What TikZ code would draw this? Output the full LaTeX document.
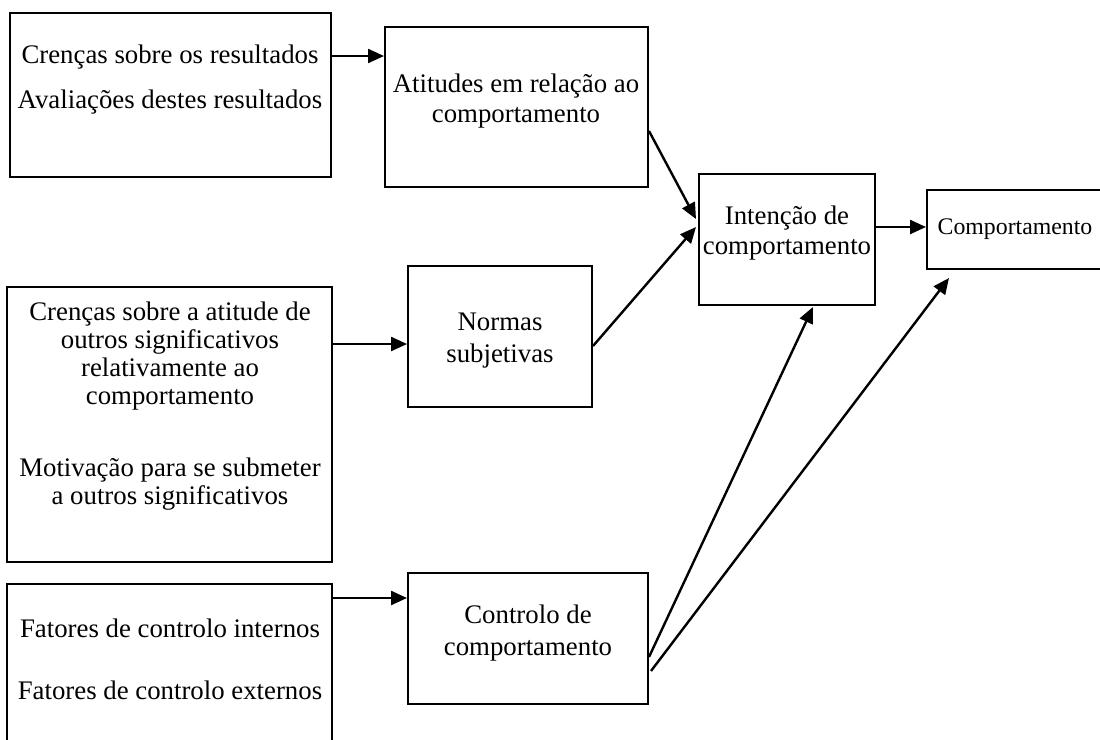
\documentclass[tikz,border=0pt]{standalone}
\usepackage{fontspec}
\setmainfont{Liberation Serif}
\usetikzlibrary{arrows.meta,fit}
\tikzset{
  box/.style={draw,line width=1pt,inner sep=0pt},
  txt/.style={align=center,inner sep=0pt},
  arr/.style={line width=1.2pt,-{Triangle[length=8pt,width=7pt]}},
}
\newcommand{\fs}[1]{\fontsize{13.4}{#1}\selectfont}
\begin{document}
\begin{tikzpicture}[x=0.5pt,y=-0.5pt]
  \useasboundingbox (0,0) rectangle (1100,740);
  \clip (0,0) rectangle (1100,740);
  % boxes
  \node[box,fit={(10,13) (331,177)}] (res) {};
  \node[box,fit={(385,27) (648,187)}] (atit) {};
  \node[box,fit={(7,287) (332,562)}] (cren) {};
  \node[box,fit={(408,266) (592,407)}] (norm) {};
  \node[box,fit={(7,584) (332,770)}] (fat) {};
  \node[box,fit={(408,573) (648,704)}] (ctrl) {};
  \node[box,fit={(699,174) (875,305)}] (int) {};
  \node[box,fit={(927,190) (1120,269)}] (comp) {};
  % texts
  \node[txt,font=\fs{22.5}] (restxt) at (170,80)
    {Crenças sobre os resultados\\Avaliações destes resultados};
  \node[txt,font=\fs{15}] (atittxt) at (516,101)
    {Atitudes em relação ao\\comportamento};
  \node[txt,font=\fs{14}] (crentxt) at (170,406)
    {Crenças sobre a atitude de\\outros significativos\\relativamente ao\\comportamento\\[22pt]Motivação para se submeter\\a outros significativos};
  \node[txt,font=\fs{16}] (normtxt) at (500,341)
    {Normas\\subjetivas};
  \node[txt,font=\fs{31}] (fattxt) at (170,659)
    {Fatores de controlo internos\\Fatores de controlo externos};
  \node[txt,font=\fs{16}] (ctrltxt) at (528,633)
    {Controlo de\\comportamento};
  \node[txt,font=\fs{15}] (inttxt) at (787,233)
    {Intenção de\\comportamento};
  \node[txt,font=\fontsize{11.9}{14}\selectfont] (comptxt) at (1015,229)
    {Comportamento};
  % arrows
  \draw[arr] ([yshift=-22pt]res.north east) -- ([yshift=-15pt]atit.north west);
  \draw[arr] ([yshift=-52.5pt]atit.north east) -- ([xshift=-1pt,yshift=-23pt]int.north west);
  \draw[arr] ([yshift=-29pt]cren.north east) -- ([yshift=-39.5pt]norm.north west);
  \draw[arr] ([yshift=-40.5pt]norm.north east) -- ([xshift=-1pt,yshift=-27pt]int.north west);
  \draw[arr] ([yshift=-27pt]int.north east) -- ([yshift=-19pt]comp.north west);
  \draw[arr] ([yshift=-7.5pt]fat.north east) -- ([yshift=-13pt]ctrl.north west);
  \draw[arr] ([yshift=-42.5pt]ctrl.north east) -- ([xshift=57.5pt,yshift=-0.5pt]int.south west);
  \draw[arr] ([xshift=1pt,yshift=-49.5pt]ctrl.north east) -- ([xshift=11.5pt,yshift=-4pt]comp.south west);
\end{tikzpicture}
\end{document}
